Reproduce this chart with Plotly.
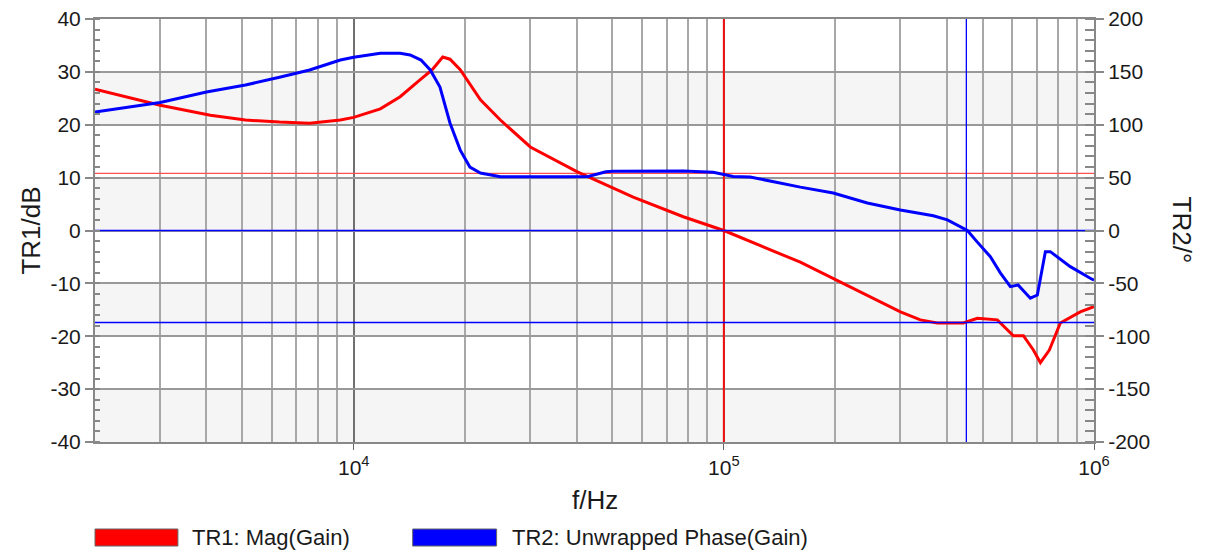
import plotly.graph_objects as go
import numpy as np

# ---------------- data ----------------
freq_mag = [2000, 3000, 4100, 5100, 6300, 7600, 9200, 10000, 11800, 13350, 15100,
            16300, 17400, 18200, 19400, 22000, 24900, 30000, 40200, 56900, 77700,
            100000, 160900, 220000, 300000, 339500, 377000, 443600, 484000, 548000,
            605700, 644600, 685800, 716500, 757500, 811000, 918000, 1000000]
mag_db = [26.7, 23.7, 21.8, 20.9, 20.5, 20.3, 20.9, 21.4, 23.0, 25.3, 28.5,
          30.4, 32.8, 32.4, 30.4, 24.7, 20.9, 15.8, 11.1, 6.3, 2.6,
          0.0, -6.0, -10.7, -15.4, -16.9, -17.5, -17.5, -16.6, -16.9,
          -19.9, -19.9, -22.6, -25.0, -22.6, -17.5, -15.4, -14.4]

freq_ph = [2000, 3000, 4000, 5100, 6300, 7600, 9200, 10000, 11800, 13350, 14200,
           15200, 16100, 17100, 18200, 19400, 20600, 22000, 24900, 30000, 37700,
           43000, 48000, 50200, 77700, 93600, 106000, 117800, 160900, 197500,
           244100, 299800, 368100, 401700, 454900, 484000, 524800, 558400, 594300,
           623500, 673000, 703000, 739000, 762000, 863000, 977000, 1000000]
phase_deg = [112, 121, 131, 137.6, 144.9, 151.8, 161.2, 163.8, 167.5, 167.5, 166,
             161.2, 151.8, 135.7, 101.7, 76, 60, 54.4, 50.8, 50.6, 50.8,
             51, 55.5, 56, 56.3, 55, 51, 50.6, 41, 35.5,
             26, 19.4, 14, 10, 0, -11, -24.8, -40, -53.1,
             -51.5, -64, -61, -20, -20, -34.2, -45.2, -47]

# cursor / marker lines
red_marker_db = 10.8
red_marker_freq = 100000
blue_marker_phase = [0, -87]
blue_marker_freq = 452000

# axis ticks
x_range_hz = [2000, 1000000]
x_major = [10000, 100000, 1000000]
x_major_text = ["10<sup>4</sup>", "10<sup>5</sup>", "10<sup>6</sup>"]
x_minor = [m * 10 ** e for e in (3, 4, 5) for m in range(2, 10)]
y1_ticks = list(range(-40, 41, 10))
y2_ticks = list(range(-200, 201, 50))
band_pairs = [(20, 30), (0, 10), (-20, -10), (-40, -30)]

RED = "#ff0000"
BLUE = "#0000ff"
FONT = "Arial, Liberation Sans, sans-serif"
TXT = "#1a1a1a"

fig = go.Figure()

# marker lines (drawn beneath the curves)
fig.add_trace(go.Scatter(x=x_range_hz, y=[red_marker_db] * 2, mode="lines",
                         line=dict(color="#ff5050", width=1.2), hoverinfo="skip", showlegend=False))
fig.add_trace(go.Scatter(x=[red_marker_freq] * 2, y=[-40, 40], mode="lines",
                         line=dict(color="#f01010", width=2), hoverinfo="skip", showlegend=False))
for p in blue_marker_phase:
    fig.add_trace(go.Scatter(x=x_range_hz, y=[p] * 2, yaxis="y2", mode="lines",
                             line=dict(color=BLUE, width=1.3), hoverinfo="skip", showlegend=False))
fig.add_trace(go.Scatter(x=[blue_marker_freq] * 2, y=[-40, 40], mode="lines",
                         line=dict(color=BLUE, width=1.3), hoverinfo="skip", showlegend=False))

# curves
fig.add_trace(go.Scatter(x=freq_mag, y=mag_db, mode="lines", name="TR1: Mag(Gain)",
                         line=dict(color=RED, width=3), showlegend=False))
fig.add_trace(go.Scatter(x=freq_ph, y=phase_deg, mode="lines", yaxis="y2",
                         name="TR2: Unwrapped Phase(Gain)",
                         line=dict(color=BLUE, width=3), showlegend=False))

# alternating grey bands
for lo, hi in band_pairs:
    fig.add_shape(type="rect", xref="x domain", x0=0, x1=1, yref="y", y0=lo, y1=hi,
                  fillcolor="#f5f5f5", line=dict(width=0), layer="below")

# page body has an 8px margin, so the figure is 8px smaller and shifted
fig.update_layout(
    width=1197, height=547,
    margin=dict(l=87, r=111, t=11, b=113, autoexpand=False),
    paper_bgcolor="white", plot_bgcolor="white",
    font=dict(family=FONT, size=21, color=TXT),
    xaxis=dict(type="log", range=[np.log10(x_range_hz[0]), np.log10(x_range_hz[1])],
               automargin=False, ticklabeloverflow="allow",
               tickvals=x_major, ticktext=x_major_text,
               showgrid=True, gridcolor="#707070", gridwidth=1.5,
               ticks="outside", ticklen=6, tickcolor="#666", tickwidth=1,
               showline=True, linecolor="#888", linewidth=2, mirror=True,
               zeroline=False, tickfont=dict(size=21, family=FONT, color=TXT),
               minor=dict(tickvals=x_minor, showgrid=True, gridcolor="#a8a8a8",
                          gridwidth=1.8, ticks="")),
    yaxis=dict(range=[-40, 40], tickvals=y1_ticks, ticktext=[str(v) for v in y1_ticks],
               automargin=False, ticklabeloverflow="allow",
               showgrid=True, gridcolor="#999999", gridwidth=1.8,
               ticks="outside", ticklen=8, tickcolor="#888", tickwidth=1.5,
               showline=True, linecolor="#888", linewidth=2,
               zeroline=False, tickfont=dict(size=21, family=FONT, color=TXT),
               minor=dict(dtick=2, ticks="inside", ticklen=5, tickcolor="#888",
                          tickwidth=1.5, showgrid=False)),
    yaxis2=dict(overlaying="y", side="right", range=[-200, 200], automargin=False,
                ticklabeloverflow="allow",
                tickvals=y2_ticks, ticktext=[str(v) for v in y2_ticks],
                showgrid=False, ticks="outside", ticklen=8, tickcolor="#888", tickwidth=1.5,
                showline=True, linecolor="#888", linewidth=2, zeroline=False,
                tickfont=dict(size=21, family=FONT, color=TXT),
                minor=dict(dtick=10, ticks="inside", ticklen=9, tickcolor="#888",
                           tickwidth=1.5, showgrid=False)),
)

# axis titles
fig.add_annotation(text="TR1/dB", xref="paper", yref="paper", x=-0.065, y=0.5,
                   xanchor="center", yanchor="middle",
                   textangle=-90, showarrow=False, font=dict(size=26, family=FONT, color=TXT))
fig.add_annotation(text="TR2/°", xref="paper", yref="paper", x=1.089, y=0.5,
                   xanchor="center", yanchor="middle",
                   textangle=90, showarrow=False, font=dict(size=26, family=FONT, color=TXT))
fig.add_annotation(text="f/Hz", xref="paper", yref="paper", x=0.5, y=-0.137,
                   xanchor="center", yanchor="middle",
                   showarrow=False, font=dict(size=26, family=FONT, color=TXT))

# legend drawn at the bottom
legend_items = [("TR1: Mag(Gain)", RED, 0.0, 0.083, 0.095),
                ("TR2: Unwrapped Phase(Gain)", BLUE, 0.318, 0.402, 0.415)]
for label, col, x0, x1, xt in legend_items:
    fig.add_shape(type="rect", xref="paper", yref="paper", x0=x0, x1=x1, y0=-0.2459, y1=-0.2057,
                  fillcolor=col, line=dict(color="#666", width=1))
    fig.add_annotation(text=label, xref="paper", yref="paper", x=xt, y=-0.2258,
                       xanchor="left", yanchor="middle", showarrow=False,
                       font=dict(size=22, family=FONT, color=TXT))

fig.write_html("out.html")
